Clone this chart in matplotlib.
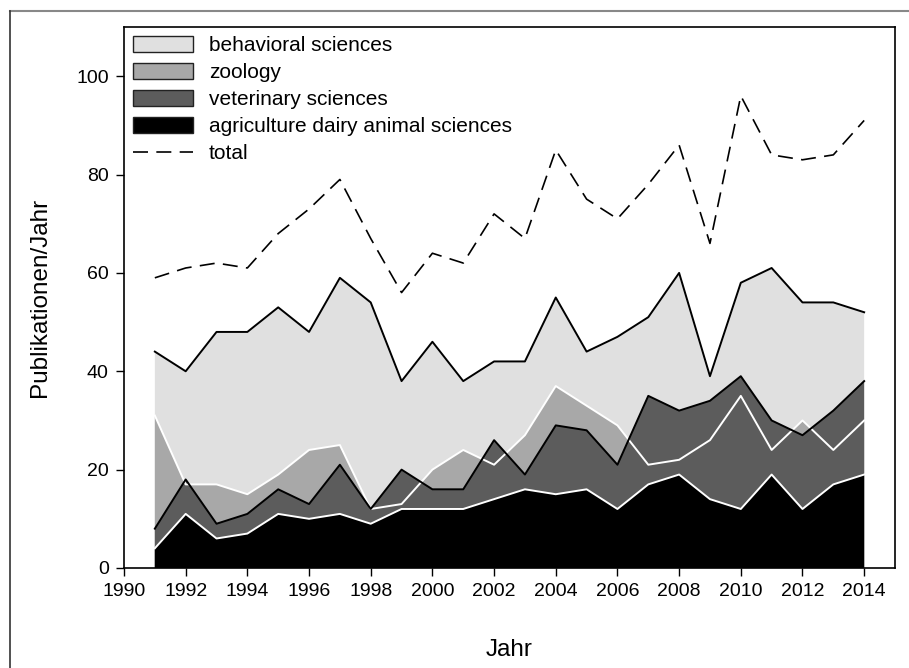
import numpy as np
import matplotlib
matplotlib.use('Agg')
import matplotlib.pyplot as plt
from matplotlib.patches import Patch
from matplotlib.lines import Line2D

plt.rcParams['font.family'] = ['Liberation Sans', 'DejaVu Sans']

#%% Daten
jahre = np.arange(1991, 2015)
total = [59, 61, 62, 61, 68, 73, 79, 67, 56, 64, 62, 72,
         67, 85, 75, 71, 78, 86, 66, 96, 84, 83, 84, 91]
behavioral = [44, 40, 48, 48, 53, 48, 59, 54, 38, 46, 38, 42,
              42, 55, 44, 47, 51, 60, 39, 58, 61, 54, 54, 52]
zoology = [31, 17, 17, 15, 19, 24, 25, 12, 13, 20, 24, 21,
           27, 37, 33, 29, 21, 22, 26, 35, 24, 30, 24, 30]
veterinary = [8, 18, 9, 11, 16, 13, 21, 12, 20, 16, 16, 26,
              19, 29, 28, 21, 35, 32, 34, 39, 30, 27, 32, 38]
agriculture = [4, 11, 6, 7, 11, 10, 11, 9, 12, 12, 12, 14,
               16, 15, 16, 12, 17, 19, 14, 12, 19, 12, 17, 19]

nombres = ['behavioral sciences', 'zoology', 'veterinary sciences',
           'agriculture dairy animal sciences']
series = [behavioral, zoology, veterinary, agriculture]
rellenos = ['#e0e0e0', '#a8a8a8', '#5c5c5c', '#000000']
bordes = ['black', 'white', 'black', 'white']

#%% Figura
fig = plt.figure(figsize=(9.09, 6.68), dpi=100)
ax = fig.add_axes([124 / 909, 1 - 568 / 668, (895 - 124) / 909, (568 - 27) / 668])

# areas superpuestas desde cero
for y, c in zip(series, rellenos):
    ax.fill_between(jahre, 0, y, facecolor=c, edgecolor='none', zorder=2)
# contornos encima de todos los rellenos
for y, c in zip(series, bordes):
    ax.plot(jahre, y, color=c, lw=1.4, zorder=3)
ax.plot(jahre, total, color='black', lw=1.2, dashes=(9, 5), zorder=4)

ax.set_xlim(1990, 2015)
ax.set_ylim(0, 110)
ax.set_xticks(np.arange(1990, 2015, 2))
ax.set_yticks(np.arange(0, 101, 20))
ax.tick_params(direction='out', length=6, width=1, labelsize=14, pad=5)
for s in ax.spines.values():
    s.set_linewidth(1.2)
ax.set_xlabel('Jahr', fontsize=17.5, labelpad=28)
ax.set_ylabel('Publikationen/Jahr', fontsize=17.5, labelpad=18)

handles = [Patch(facecolor=c, edgecolor='#222222', lw=1) for c in rellenos]
handles.append(Line2D([], [], color='black', lw=1.2, dashes=(9, 5)))
ax.legend(handles, nombres + ['total'], loc='upper left',
          bbox_to_anchor=(0.0, 1.0), frameon=False, fontsize=15,
          handlelength=2.9, handleheight=0.82, labelspacing=0.37,
          handletextpad=0.75, borderpad=0.32, borderaxespad=0.1)

# marco exterior de la imagen
fig.add_artist(Line2D([10 / 909, 1], [1 - 11 / 668] * 2, color='#888888',
                      lw=1.5, transform=fig.transFigure))
fig.add_artist(Line2D([10 / 909] * 2, [0, 1 - 11 / 668], color='#333333',
                      lw=1.2, transform=fig.transFigure))

fig.savefig('out.png', dpi=100)
